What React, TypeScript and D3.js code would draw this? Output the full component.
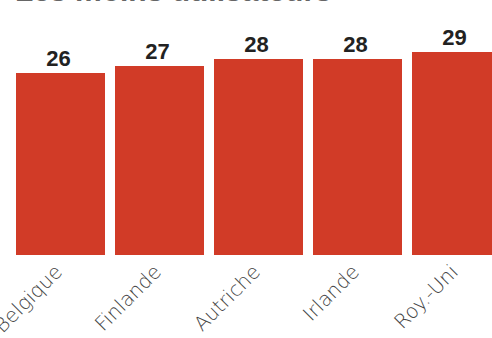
import React from "react";
import * as d3 from "d3";

const title = "Les moins utilisateurs";
const categories = ["Belgique", "Finlande", "Autriche", "Irlande", "Roy.-Uni"];
const values = [26, 27, 28, 28, 29];

const W = 492;
const H = 338;

export default function App() {
  const x = d3
    .scaleBand<string>()
    .domain(categories)
    .range([16, 501])
    .paddingInner(10 / 99)
    .paddingOuter(0);
  const y = d3.scaleLinear().domain([0, 30]).range([255, 45]);

  return (
    <svg
      width={W}
      height={H}
      style={{ position: "absolute", left: 0, top: 0, background: "#fff" }}
    >
      <text
        x={15}
        y={1}
        fontFamily="Liberation Sans, Arial, sans-serif"
        fontWeight="bold"
        fontSize={30}
        fill="#666"
      >
        {title}
      </text>
      {categories.map((c, i) => {
        const bx = x(c)!;
        const bw = x.bandwidth();
        const cx = bx + bw / 2;
        return (
          <g key={c}>
            <rect
              x={bx}
              y={y(values[i])}
              width={bw}
              height={y(0) - y(values[i])}
              fill="#d13b27"
            />
            <text
              x={cx - 2}
              y={y(values[i]) - 7}
              textAnchor="middle"
              fontFamily="Liberation Sans, Arial, sans-serif"
              fontWeight="bold"
              fontSize={22}
              fill="#222"
            >
              {values[i]}
            </text>
            <text
              transform={`translate(${cx + 3},${y(0) + 18}) rotate(-45)`}
              textAnchor="end"
              fontFamily="'DejaVu Sans', sans-serif"
              fontWeight={200}
              fontSize={20}
              fill="#444"
            >
              {c}
            </text>
          </g>
        );
      })}
    </svg>
  );
}
